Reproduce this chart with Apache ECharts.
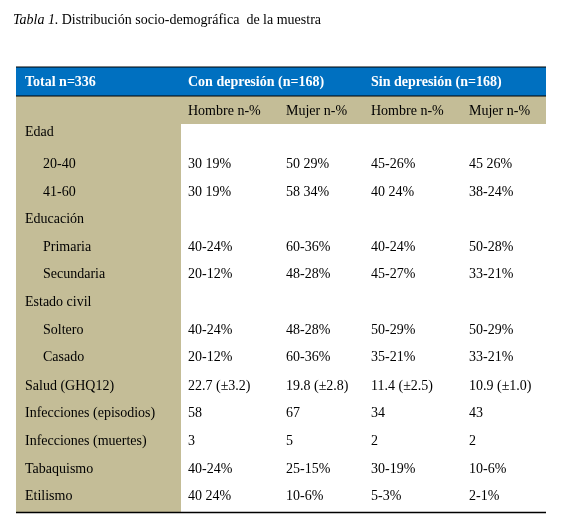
<!DOCTYPE html>
<html><head><meta charset="utf-8">
<script src="https://cdn.jsdelivr.net/npm/echarts@6/dist/echarts.min.js"></script>
<style>html,body{margin:0;padding:0;background:#fff}#c{width:566px;height:514px}</style>
</head><body><div id="c"></div>
<script>
var groupHeaders = ['Total n=336', 'Con depresión (n=168)', 'Sin depresión (n=168)'];
var subHeaders = ['Hombre n-%', 'Mujer n-%', 'Hombre n-%', 'Mujer n-%'];
var rowLabels = ['Edad','20-40','41-60','Educación','Primaria','Secundaria','Estado civil','Soltero','Casado','Salud (GHQ12)','Infecciones (episodios)','Infecciones (muertes)','Tabaquismo','Etilismo'];
var rowIndent = [0,1,1,0,1,1,0,1,1,0,0,0,0,0];
var colConHombre = ['','30 19%','30 19%','','40-24%','20-12%','','40-24%','20-12%','22.7 (±3.2)','58','3','40-24%','40 24%'];
var colConMujer = ['','50 29%','58 34%','','60-36%','48-28%','','48-28%','60-36%','19.8 (±2.8)','67','5','25-15%','10-6%'];
var colSinHombre = ['','45-26%','40 24%','','40-24%','45-27%','','50-29%','35-21%','11.4 (±2.5)','34','2','30-19%','5-3%'];
var colSinMujer = ['','45 26%','38-24%','','50-28%','33-21%','','50-29%','33-21%','10.9 (±1.0)','43','2','10-6%','2-1%'];
var cols = [colConHombre, colConMujer, colSinHombre, colSinMujer];

var F = '"Liberation Serif","Times New Roman",serif';
var L = 16, R = 546, leftW = 181, colX = [188, 286, 371, 469];
var hTop = 67, hH = 29, sH = 28, rowTop = 124, rowH = 27.6;
var els = [];
function txt(x, y, s, opt) {
  els.push({type:'text', x:x, y:y, style:Object.assign({text:s, font:'14px '+F, fill:'#000', verticalAlign:'middle'}, opt||{})});
}
els.push({type:'rect', shape:{x:L,y:hTop,width:R-L,height:hH}, style:{fill:'#0070c0'}});
els.push({type:'rect', shape:{x:L,y:hTop+hH,width:R-L,height:sH}, style:{fill:'#c4bd97'}});
var bottom = rowTop + rowH*rowLabels.length + 2;
els.push({type:'rect', shape:{x:L,y:rowTop,width:leftW-L,height:bottom-rowTop}, style:{fill:'#c4bd97'}});
els.push({type:'line', shape:{x1:L,y1:hTop,x2:R,y2:hTop}, style:{stroke:'#000',lineWidth:1}});
els.push({type:'line', shape:{x1:L,y1:hTop+hH,x2:R,y2:hTop+hH}, style:{stroke:'#000',lineWidth:1}});
els.push({type:'line', shape:{x1:L,y1:bottom,x2:R,y2:bottom}, style:{stroke:'#000',lineWidth:1.5}});
var ghX = [25, 188, 371];
groupHeaders.forEach(function(g,i){ txt(ghX[i], hTop+hH/2+1, g, {fill:'#fff', font:'bold 14px '+F}); });
subHeaders.forEach(function(s,i){ txt(colX[i], hTop+hH+sH/2+1, s); });
rowLabels.forEach(function(r,i){
  var y = rowTop + rowH*i + rowH/2 - 5 + (i>=9?1:0);
  txt(rowIndent[i] ? 43 : 25, y + (i<1?-4:0) + 4, r);
  cols.forEach(function(c,j){ if (c[i]) txt(colX[j], y+4, c[i]); });
});
els.push({type:'text', x:13, y:20, style:{rich:{i:{font:'italic 14px '+F,fill:'#000'},n:{font:'14px '+F,fill:'#000'}}, text:'{i|Tabla 1.} {n|Distribución socio-demográfica  de la muestra}', verticalAlign:'middle'}});
var chart = echarts.init(document.getElementById('c'));
chart.setOption({animation:false, graphic:{elements:els}});
</script></body></html>
